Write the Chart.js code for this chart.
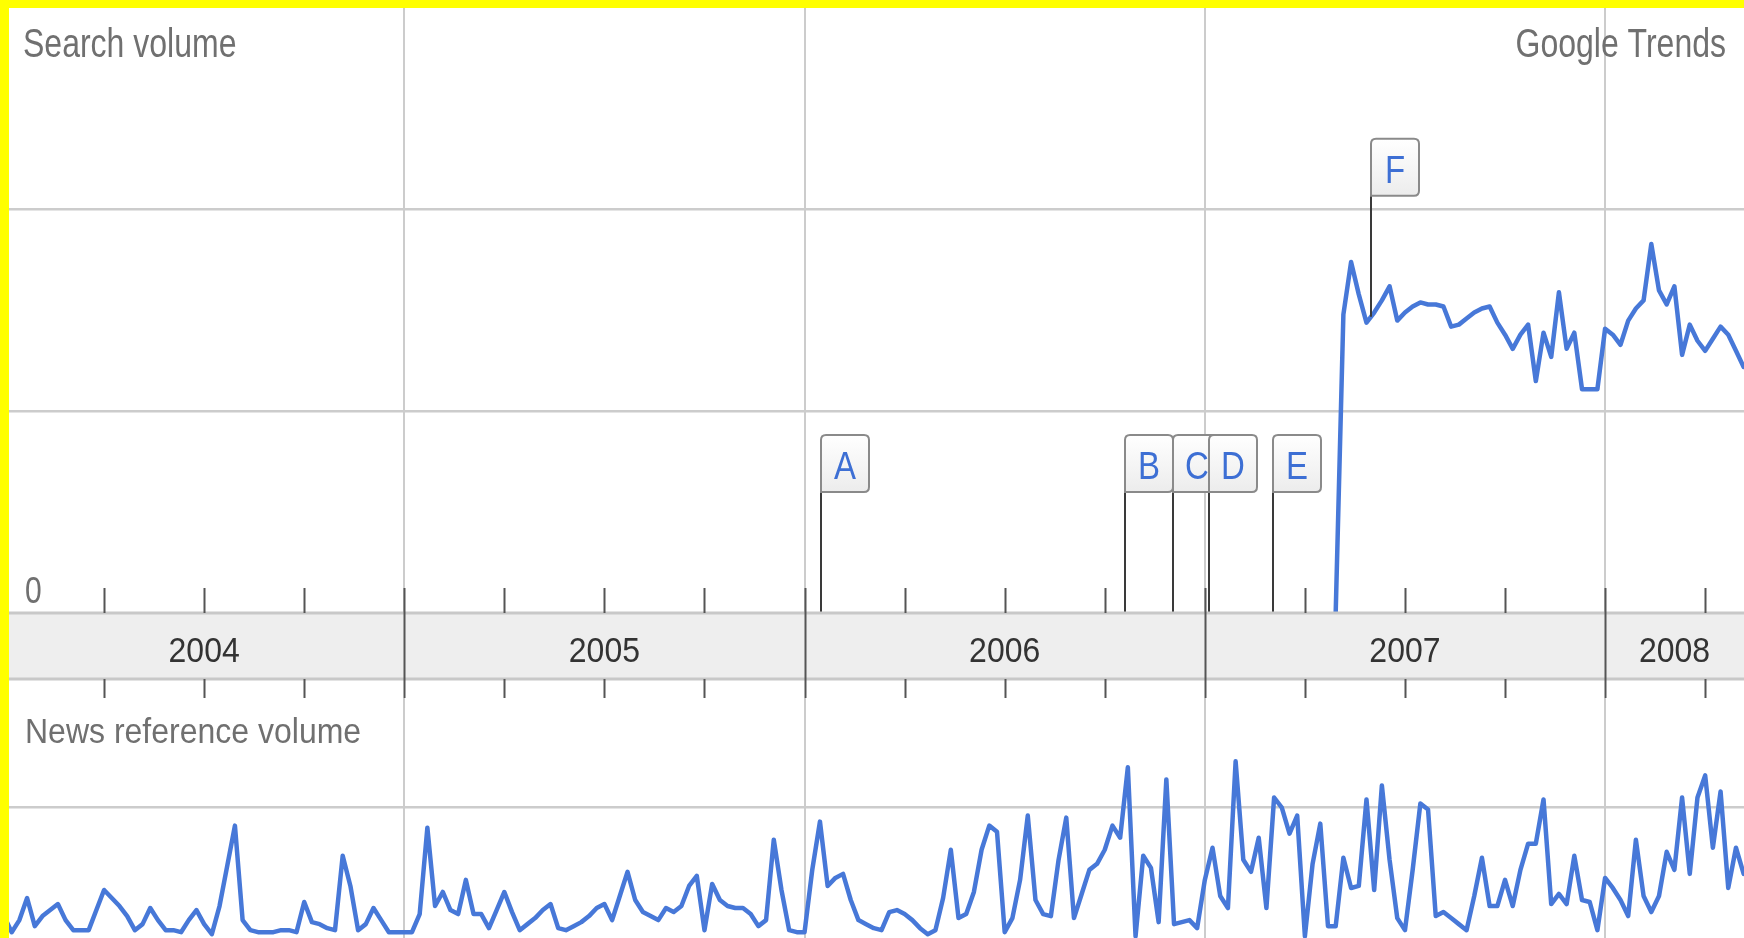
<!DOCTYPE html>
<html>
<head>
<meta charset="utf-8">
<script src="https://cdn.jsdelivr.net/npm/chart.js@4.4.1/dist/chart.umd.min.js"></script>
<style>
  html, body { margin: 0; padding: 0; background: #fff; overflow: hidden; }
  #wrap { position: relative; width: 1744px; height: 938px; }
  canvas { position: absolute; left: 0; }
  #top { top: 8px; z-index: 2; }
  #news { top: 698px; z-index: 1; }
  .yellow { position: absolute; background: #ffff00; z-index: 3; }
</style>
</head>
<body>
<div id="wrap">
  <canvas id="news" width="1744" height="240"></canvas>
  <canvas id="top" width="1744" height="690"></canvas>
  <div class="yellow" style="left:0;top:0;width:1744px;height:8px"></div>
  <div class="yellow" style="left:0;top:0;width:9px;height:938px"></div>
</div>
<script>
// weekly data, first week = start of 2004
var years = ['2004', '2005', '2006', '2007', '2008'];
var weekStart = 2004;
var searchStartWeek = 173;

var searchVolume = [0, 1.48, 1.74, 1.58, 1.44, 1.49, 1.55, 1.62, 1.45, 1.49,
    1.52, 1.54, 1.53, 1.53, 1.52, 1.42, 1.43, 1.46, 1.49, 1.51,
    1.52, 1.44, 1.38, 1.31, 1.38, 1.43, 1.15, 1.39, 1.27, 1.59,
    1.31, 1.39, 1.11, 1.11, 1.11, 1.41, 1.38, 1.33, 1.45, 1.51,
    1.55, 1.83, 1.60, 1.53, 1.62, 1.28, 1.43, 1.35, 1.30, 1.36,
    1.42, 1.38, 1.30, 1.22];

var newsVolume = [0.46, 0.38, 0.44, 0.55, 0.41, 0.46, 0.49, 0.52, 0.44, 0.39,
    0.39, 0.39, 0.49, 0.59, 0.55, 0.51, 0.46, 0.39, 0.42, 0.50,
    0.44, 0.39, 0.39, 0.38, 0.44, 0.49, 0.42, 0.37, 0.51, 0.71,
    0.91, 0.44, 0.39, 0.38, 0.38, 0.38, 0.39, 0.39, 0.38, 0.53,
    0.43, 0.42, 0.40, 0.39, 0.76, 0.61, 0.39, 0.42, 0.50, 0.44,
    0.38, 0.38, 0.38, 0.38, 0.47, 0.90, 0.51, 0.58, 0.49, 0.47,
    0.64, 0.47, 0.47, 0.40, 0.49, 0.58, 0.48, 0.39, 0.42, 0.45,
    0.49, 0.52, 0.40, 0.39, 0.41, 0.43, 0.46, 0.50, 0.52, 0.44,
    0.56, 0.68, 0.54, 0.48, 0.46, 0.44, 0.50, 0.48, 0.51, 0.61,
    0.66, 0.39, 0.62, 0.54, 0.51, 0.50, 0.50, 0.47, 0.41, 0.44,
    0.84, 0.59, 0.39, 0.38, 0.38, 0.69, 0.93, 0.61, 0.65, 0.67,
    0.54, 0.44, 0.42, 0.40, 0.39, 0.48, 0.49, 0.47, 0.44, 0.40,
    0.37, 0.39, 0.55, 0.79, 0.45, 0.47, 0.58, 0.79, 0.91, 0.88,
    0.38, 0.45, 0.64, 0.96, 0.54, 0.47, 0.46, 0.74, 0.95, 0.45,
    0.57, 0.69, 0.72, 0.79, 0.91, 0.85, 1.20, 0.36, 0.76, 0.70,
    0.43, 1.14, 0.42, 0.43, 0.44, 0.40, 0.64, 0.80, 0.56, 0.50,
    1.23, 0.74, 0.68, 0.85, 0.50, 1.05, 1.00, 0.87, 0.96, 0.36,
    0.72, 0.92, 0.41, 0.41, 0.75, 0.60, 0.61, 1.04, 0.59, 1.11,
    0.74, 0.45, 0.39, 0.69, 1.02, 0.99, 0.46, 0.48, 0.45, 0.42,
    0.39, 0.56, 0.75, 0.51, 0.51, 0.64, 0.51, 0.69, 0.82, 0.82,
    1.04, 0.52, 0.57, 0.52, 0.76, 0.54, 0.53, 0.39, 0.65, 0.60,
    0.54, 0.46, 0.84, 0.56, 0.48, 0.56, 0.78, 0.69, 1.05, 0.67,
    1.05, 1.16, 0.80, 1.08, 0.60, 0.80, 0.67];

var flagLabels = ['A', 'B', 'C', 'D', 'E', 'F'];
var flagDates = [2006.04, 2006.80, 2006.92, 2007.01, 2007.17, 2007.415];

var xMin = 2003.99;
var xMax = 2008.347;
var lineBlue = '#4778d8';
var gridGrey = '#cccccc';
var fontFamily = '"Liberation Sans", Arial, sans-serif';

var searchPoints = searchVolume.map(function(v, i) {
    return { x: weekStart + (searchStartWeek + i) / 52, y: v };
});
var newsPoints = newsVolume.map(function(v, i) {
    return { x: weekStart + i / 52, y: v };
});

function searchAt(date) {
    if (date <= searchPoints[0].x) return 0;
    for (var i = 1; i < searchPoints.length; i++) {
        var a = searchPoints[i - 1], b = searchPoints[i];
        if (date <= b.x) return a.y + (b.y - a.y) * (date - a.x) / (b.x - a.x);
    }
    return searchPoints[searchPoints.length - 1].y;
}

// tall, slightly stretched text like the screenshot
function tallText(ctx, text, x, y, size, color, align, sy) {
    ctx.save();
    ctx.font = size + 'px ' + fontFamily;
    ctx.fillStyle = color;
    ctx.textAlign = align;
    ctx.textBaseline = 'alphabetic';
    ctx.translate(x, y);
    ctx.scale(1, sy);
    ctx.fillText(text, 0, 0);
    ctx.restore();
}

function flagBox(ctx, x, y, w, h, r) {
    ctx.beginPath();
    ctx.moveTo(x, y + h);
    ctx.lineTo(x, y + r);
    ctx.quadraticCurveTo(x, y, x + r, y);
    ctx.lineTo(x + w - r, y);
    ctx.quadraticCurveTo(x + w, y, x + w, y + r);
    ctx.lineTo(x + w, y + h - r);
    ctx.quadraticCurveTo(x + w, y + h, x + w - r, y + h);
    ctx.closePath();
}

var topDecor = {
    id: 'topDecor',
    afterDatasetsDraw: function(chart) {
        var ctx = chart.ctx, xs = chart.scales.x, ys = chart.scales.y;
        flagLabels.forEach(function(label, i) {
            var px = Math.round(xs.getPixelForValue(flagDates[i]));
            var py = ys.getPixelForValue(searchAt(flagDates[i]));
            var bottom = py - 121, top = bottom - 57;
            ctx.save();
            ctx.strokeStyle = '#3a3a3a';
            ctx.lineWidth = 2;
            ctx.beginPath();
            ctx.moveTo(px, py);
            ctx.lineTo(px, bottom);
            ctx.stroke();
            var g = ctx.createLinearGradient(0, top, 0, bottom);
            g.addColorStop(0, '#ffffff');
            g.addColorStop(1, '#ececec');
            flagBox(ctx, px, top, 48, 57, 5);
            ctx.fillStyle = g;
            ctx.fill();
            ctx.strokeStyle = '#8a8a8a';
            ctx.stroke();
            ctx.restore();
            tallText(ctx, label, px + 24, bottom - 13, 33, '#3d6fd4', 'center', 1.2);
        });
    },
    afterDraw: function(chart) {
        var ctx = chart.ctx, xs = chart.scales.x, area = chart.chartArea;
        var b = area.bottom, bandH = 66;
        ctx.save();
        ctx.fillStyle = '#eeeeee';
        ctx.fillRect(0, b, chart.width, bandH);
        ctx.strokeStyle = '#c8c8c8';
        ctx.lineWidth = 3;
        ctx.beginPath();
        ctx.moveTo(0, b); ctx.lineTo(chart.width, b);
        ctx.moveTo(0, b + bandH); ctx.lineTo(chart.width, b + bandH);
        ctx.stroke();

        // quarter ticks, year boundaries run through the band
        ctx.strokeStyle = '#555';
        ctx.lineWidth = 2;
        for (var i = 0; i <= 17; i++) {
            var px = Math.round(xs.getPixelForValue(2004 + i / 4)) + 0.5;
            ctx.beginPath();
            if (i % 4 === 0) {
                ctx.moveTo(px, b - 25); ctx.lineTo(px, b + bandH + 19);
            } else {
                ctx.moveTo(px, b - 25); ctx.lineTo(px, b);
                ctx.moveTo(px, b + bandH); ctx.lineTo(px, b + bandH + 19);
            }
            ctx.stroke();
        }
        ctx.restore();

        years.forEach(function(y) {
            var s = Math.max(xs.getPixelForValue(+y), area.left);
            var e = Math.min(xs.getPixelForValue(+y + 1), area.right);
            tallText(ctx, y, (s + e) / 2, b + 49, 32, '#333', 'center', 1.1);
        });

        tallText(ctx, 'Search volume', 23, 49, 32, '#707070', 'left', 1.25);
        tallText(ctx, 'Google Trends', 1726, 49, 32, '#707070', 'right', 1.25);
        tallText(ctx, '0', 25, b - 10, 30, '#707070', 'left', 1.25);
    }
};

var newsDecor = {
    id: 'newsDecor',
    afterDraw: function(chart) {
        tallText(chart.ctx, 'News reference volume', 25, 45, 32, '#707070', 'left', 1.1);
    }
};

function xScale() {
    return {
        type: 'linear',
        min: xMin,
        max: xMax,
        afterBuildTicks: function(axis) {
            axis.ticks = years.map(function(y) { return { value: +y }; });
        },
        afterFit: function(axis) { axis.height = 0; },
        grid: { color: gridGrey, lineWidth: 2, drawTicks: false },
        border: { display: false },
        ticks: { display: false }
    };
}

function yScale(min, max, gridValues) {
    return {
        min: min,
        max: max,
        afterBuildTicks: function(axis) {
            axis.ticks = gridValues.map(function(v) { return { value: v }; });
        },
        afterFit: function(axis) { axis.width = 0; },
        grid: { color: gridGrey, lineWidth: 2.5, drawTicks: false },
        border: { display: false },
        ticks: { display: false }
    };
}

function lineSet(label, points) {
    return {
        label: label,
        data: points,
        borderColor: lineBlue,
        borderWidth: 4.5,
        borderJoinStyle: 'round',
        borderCapStyle: 'round',
        pointRadius: 0,
        tension: 0,
        fill: false
    };
}

window.onload = function() {
    new Chart(document.getElementById('top').getContext('2d'), {
        type: 'line',
        data: { datasets: [lineSet('Search volume', searchPoints)] },
        options: {
            responsive: false,
            animation: false,
            layout: { padding: { left: 0, right: 0, top: 0, bottom: 85 } },
            plugins: { legend: { display: false }, tooltip: { enabled: false } },
            scales: { x: xScale(), y: yScale(0, 3, [0, 1, 2]) }
        },
        plugins: [topDecor]
    });

    new Chart(document.getElementById('news').getContext('2d'), {
        type: 'line',
        data: { datasets: [lineSet('News reference volume', newsPoints)] },
        options: {
            responsive: false,
            animation: false,
            layout: { padding: 0 },
            plugins: { legend: { display: false }, tooltip: { enabled: false } },
            scales: { x: xScale(), y: yScale(0.351, 1.545, [1]) }
        },
        plugins: [newsDecor]
    });
};
</script>
</body>
</html>
